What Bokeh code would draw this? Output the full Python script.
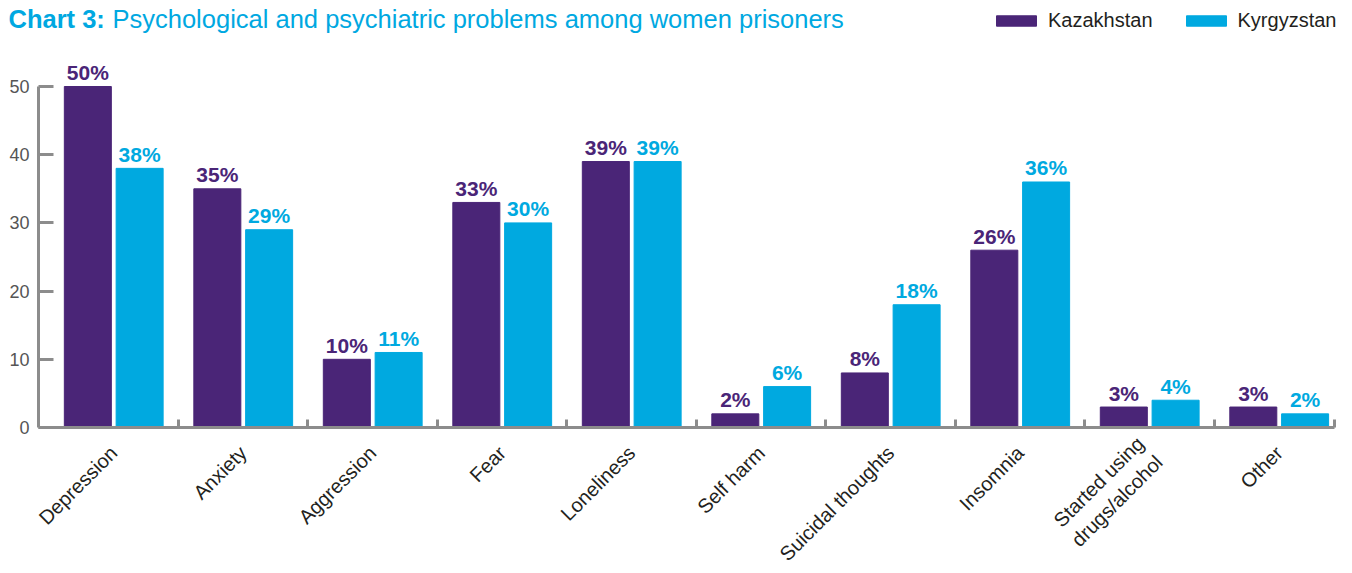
import math
import numpy as np
from bokeh.plotting import figure
from bokeh.layouts import column
from bokeh.models import Range1d, FixedTicker, Label, ColumnDataSource, Legend, LegendItem
from bokeh.core.properties import value
from bokeh.embed import file_html
from bokeh.resources import INLINE

categories = ["Depression", "Anxiety", "Aggression", "Fear", "Loneliness", "Self harm",
              "Suicidal thoughts", "Insomnia", "Started using\ndrugs/alcohol", "Other"]
kazakhstan = [50, 35, 10, 33, 39, 2, 8, 26, 3, 3]
kyrgyzstan = [38, 29, 11, 30, 39, 6, 18, 36, 4, 2]
y_ticks = [0, 10, 20, 30, 40, 50]
series_names = ["Kazakhstan", "Kyrgyzstan"]
title_bold = "Chart 3:"
title_rest = "Psychological and psychiatric problems among women prisoners"

PURPLE = "#4a2577"
CYAN = "#00a9e0"
TITLE_C = "#00a8e1"
AXIS = "#8c8c8c"
FONT = "Liberation Sans"

W = 1352
TOP_H = 56

# ---------- header (title + legend) ----------
top = figure(width=W, height=TOP_H, output_backend="svg", toolbar_location=None,
             x_range=Range1d(0, 1), y_range=Range1d(0, 1),
             x_axis_location=None, y_axis_location=None,
             min_border=0, min_border_left=0, min_border_right=0,
             min_border_top=0, min_border_bottom=0)
top.frame_align = False
top.outline_line_color = None
top.xgrid.visible = False
top.ygrid.visible = False

# legend-only renderers (zero-height bars kept below the visible range)
dummy = ColumnDataSource(dict(x=[0.5], top=[-5.0], bottom=[-5.0]))
rk = top.vbar(x="x", top="top", bottom="bottom", width=0.01, source=dummy, color=PURPLE)
rg = top.vbar(x="x", top="top", bottom="bottom", width=0.01, source=dummy, color=CYAN)
lg = Legend(items=[LegendItem(label=series_names[0], renderers=[rk]),
                   LegendItem(label=series_names[1], renderers=[rg])],
            location=(991, 24), orientation="horizontal",
            glyph_width=50, glyph_height=13, label_standoff=7, spacing=28,
            padding=0, margin=0, border_line_color=None, background_fill_alpha=0,
            label_text_font=FONT, label_text_font_size="20px",
            label_text_color="#231f20")
top.add_layout(lg, "center")

top.add_layout(Label(x=8, y=TOP_H - 18.5, x_units="screen", y_units="screen", text=title_bold,
                     text_font=FONT, text_font_style="bold", text_font_size="25.5px",
                     text_color=TITLE_C, text_baseline="middle"))
top.add_layout(Label(x=112, y=TOP_H - 18.5, x_units="screen", y_units="screen", text=title_rest,
                     text_font=FONT, text_font_size="25.5px",
                     text_color=TITLE_C, text_baseline="middle"))

# ---------- main chart ----------
n = len(categories)
centers = np.arange(n) + 0.5

p = figure(frame_width=1314, frame_height=371, output_backend="svg", toolbar_location=None,
           x_range=Range1d(-0.081, 10.066), y_range=Range1d(0, 54.4),
           min_border_left=38, min_border_right=0, min_border_top=0, min_border_bottom=146)
p.frame_align = False
p.outline_line_color = None
p.xgrid.visible = False
p.ygrid.visible = False

src_k = ColumnDataSource(dict(x=centers - 0.2, top=kazakhstan,
                              lab=[f"{v}%" for v in kazakhstan]))
src_g = ColumnDataSource(dict(x=centers + 0.2, top=kyrgyzstan,
                              lab=[f"{v}%" for v in kyrgyzstan]))

p.vbar(x="x", top="top", bottom=0, width=0.363, source=src_k, color=PURPLE)
p.vbar(x="x", top="top", bottom=0, width=0.363, source=src_g, color=CYAN)

for src, col in ((src_k, PURPLE), (src_g, CYAN)):
    p.text(x="x", y="top", text="lab", source=src, text_align="center",
           text_baseline="middle", y_offset=-14, text_color=col,
           text_font=value(FONT), text_font_style="bold", text_font_size="21px")

# x axis
xa = p.xaxis[0]
xa.ticker = FixedTicker(ticks=list(centers), minor_ticks=list(range(1, n)) + [9.93])
xa.major_label_overrides = {float(c): name for c, name in zip(centers, categories)}
xa.major_tick_in = 0
xa.major_tick_out = 0
xa.minor_tick_in = 8
xa.minor_tick_out = 0
xa.minor_tick_line_color = AXIS
xa.minor_tick_line_width = 3
xa.axis_line_color = AXIS
xa.axis_line_width = 3
xa.bounds = (-0.081, 9.93)
xa.major_label_orientation = math.pi / 4
xa.major_label_text_font = FONT
xa.major_label_text_font_size = "20px"
xa.major_label_text_color = "#231f20"
xa.major_label_standoff = 22

# y axis
ya = p.yaxis[0]
ya.ticker = FixedTicker(ticks=y_ticks, minor_ticks=[])
ya.bounds = (0, 50)
ya.major_tick_in = 15
ya.major_tick_out = 0
ya.major_tick_line_color = AXIS
ya.major_tick_line_width = 3
ya.axis_line_color = AXIS
ya.axis_line_width = 3
ya.major_label_text_font = FONT
ya.major_label_text_font_size = "18px"
ya.major_label_text_color = "#555555"
ya.major_label_standoff = 9

layout = column(top, p, spacing=0)
open("out.html", "w").write(file_html(layout, INLINE))
